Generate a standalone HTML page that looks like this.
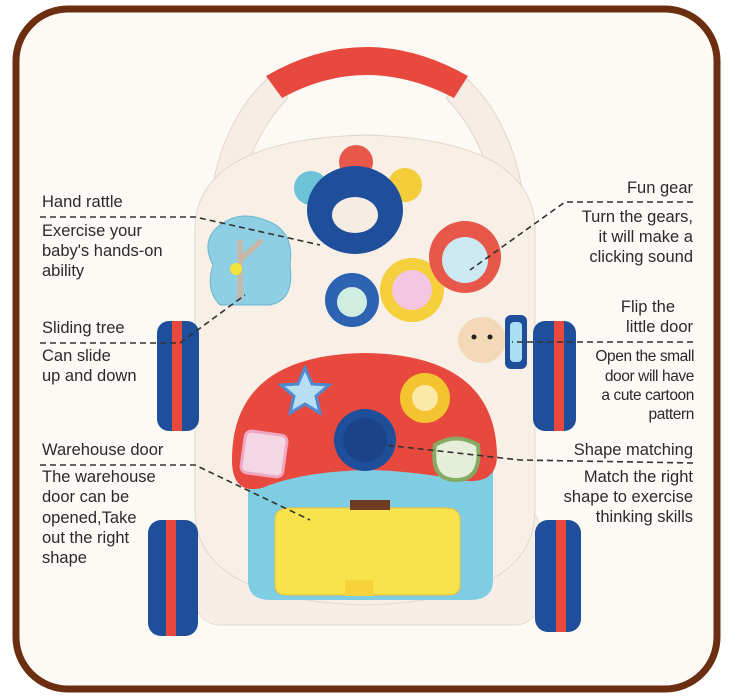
<!DOCTYPE html>
<html><head><meta charset="utf-8"><style>
html,body{margin:0;padding:0;background:#fff;}
svg{display:block;font-family:"Liberation Sans",sans-serif;}
text{fill:#2a2a2a;font-size:16.5px;}
.r{text-anchor:end;}
.n{font-size:15.5px;letter-spacing:-0.4px;}
.d{stroke:#333;stroke-width:1.6;stroke-dasharray:6 4;fill:none;}
</style></head><body>
<svg width="742" height="697" viewBox="0 0 742 697" xmlns="http://www.w3.org/2000/svg">
<rect x="0" y="0" width="742" height="697" fill="#fff"/>
<rect x="16" y="9" width="701" height="680" rx="52" fill="#fdfaf6" stroke="#6b2e10" stroke-width="7"/>

<!-- handle rails -->
<path d="M210 300 L210 200 Q222 120 268 78 L288 98 Q248 140 240 200 L240 300Z" fill="#f6ede4" stroke="#e2d6cb"/>
<path d="M524 300 L524 200 Q512 120 466 78 L446 98 Q486 140 494 200 L494 300Z" fill="#f6ede4" stroke="#e2d6cb"/>
<path d="M266 76 Q366 18 468 76 L454 98 Q366 52 282 98Z" fill="#e8493e"/>

<!-- wheels back frame -->
<rect x="195" y="505" width="345" height="120" rx="25" fill="#f7efe7" stroke="#e6dbd0"/>
<!-- body -->
<path d="M195 230 Q195 140 365 135 Q535 140 535 230 L535 510 Q535 600 365 605 Q195 600 195 510Z" fill="#f8efe6" stroke="#e3d7cc"/>

<!-- wheels -->
<g>
<rect x="157" y="321" width="42" height="110" rx="12" fill="#1f4f9a"/><rect x="172" y="321" width="10" height="110" fill="#e8493e"/>
<rect x="533" y="321" width="43" height="110" rx="12" fill="#1f4f9a"/><rect x="554" y="321" width="10" height="110" fill="#e8493e"/>
<rect x="148" y="520" width="50" height="116" rx="13" fill="#1f4f9a"/><rect x="166" y="520" width="10" height="116" fill="#e8493e"/>
<rect x="535" y="520" width="46" height="112" rx="13" fill="#1f4f9a"/><rect x="556" y="520" width="10" height="112" fill="#e8493e"/>
</g>

<!-- rattle -->
<circle cx="311" cy="188" r="17" fill="#6cc3d8"/>
<circle cx="356" cy="162" r="17" fill="#e8584a"/>
<circle cx="405" cy="185" r="17" fill="#f4cd3a"/>
<ellipse cx="355" cy="210" rx="48" ry="44" fill="#1f4f9a"/>
<ellipse cx="355" cy="215" rx="23" ry="18" fill="#f5ece3"/>
<!-- tree -->
<path d="M220 225 Q240 210 265 220 Q295 230 290 265 Q295 300 270 305 L220 305 Q205 290 213 265 Q200 240 220 225Z" fill="#8fcfe3" stroke="#6ab6cf"/>
<path d="M240 300 L240 240 M240 260 L262 240" stroke="#c9b7a4" stroke-width="5" fill="none"/>
<circle cx="236" cy="269" r="6" fill="#f3e43b"/>
<!-- gears -->
<circle cx="352" cy="300" r="27" fill="#2d63b1"/><circle cx="352" cy="302" r="15" fill="#cfeee1"/>
<circle cx="412" cy="290" r="32" fill="#f6cf3c"/><circle cx="412" cy="290" r="20" fill="#f4c6e2"/>
<circle cx="465" cy="257" r="36" fill="#e8584a"/><circle cx="465" cy="260" r="23" fill="#cde9f4"/>
<!-- bear + door -->
<ellipse cx="482" cy="340" rx="24" ry="23" fill="#f3d9b8"/>
<circle cx="474" cy="337" r="2.5" fill="#222"/><circle cx="490" cy="337" r="2.5" fill="#222"/>
<rect x="505" y="315" width="22" height="54" rx="6" fill="#1f4f9a"/><rect x="510" y="322" width="12" height="40" rx="4" fill="#a9dff1"/>

<!-- lower blue panel -->
<path d="M248 470 L493 470 L493 580 Q493 600 470 600 L270 600 Q248 600 248 580Z" fill="#7fcde3"/>
<path d="M275 520 Q275 508 290 508 L445 508 Q460 508 460 520 L460 585 Q460 595 448 595 L287 595 Q275 595 275 585Z" fill="#f7e44c" stroke="#f2c230"/>
<rect x="345" y="580" width="28" height="16" fill="#f7d23a"/>
<rect x="350" y="500" width="40" height="10" fill="#6e3c22"/>
<!-- red dome -->
<path d="M232 460 Q232 355 365 353 Q495 355 497 455 Q497 490 450 478 Q400 470 365 470 Q300 472 262 488 Q232 495 232 460Z" fill="#e8493e"/>
<circle cx="365" cy="440" r="31" fill="#1f4f9a"/><circle cx="365" cy="440" r="22" fill="#1a4388"/>
<path d="M305 368 L312 384 L329 385 L316 396 L320 413 L305 404 L290 413 L294 396 L281 385 L298 384Z" fill="#b8def1" stroke="#4f8ad0" stroke-width="3"/>
<circle cx="425" cy="398" r="25" fill="#f4c430"/><circle cx="425" cy="398" r="13" fill="#fbe9a7"/>
<rect x="243" y="433" width="42" height="42" rx="6" fill="#f5d7e3" stroke="#f0a7c2" stroke-width="3" transform="rotate(8 264 454)"/>
<path d="M435 445 Q456 432 478 445 Q482 480 456 480 Q430 480 435 445Z" fill="#e5eed8" stroke="#86a964" stroke-width="4"/>

<!-- dashed connectors -->
<path class="d" d="M40 217 L195 217 L320 245"/>
<path class="d" d="M40 343 L180 343 L245 295"/>
<path class="d" d="M40 465 L195 465 L310 520"/>
<path class="d" d="M693 202 L565 202 L470 270"/>
<path class="d" d="M693 342 L512 342"/>
<path class="d" d="M693 463 L520 460 L385 445"/>

<!-- left labels -->
<text x="42" y="207">Hand rattle</text>
<text x="42" y="236">Exercise your</text>
<text x="42" y="256">baby's hands-on</text>
<text x="42" y="276">ability</text>
<text x="42" y="333">Sliding tree</text>
<text x="42" y="361">Can slide</text>
<text x="42" y="381">up and down</text>
<text x="42" y="455">Warehouse door</text>
<text x="42" y="482">The warehouse</text>
<text x="42" y="502">door can be</text>
<text x="42" y="523">opened,Take</text>
<text x="42" y="543">out the right</text>
<text x="42" y="563">shape</text>

<!-- right labels -->
<text class="r" x="693" y="193">Fun gear</text>
<text class="r" x="693" y="222">Turn the gears,</text>
<text class="r" x="693" y="242">it will make a</text>
<text class="r" x="693" y="262">clicking sound</text>
<text class="r" x="675" y="312">Flip the</text>
<text class="r" x="693" y="332">little door</text>
<text class="r n" x="694" y="361">Open the small</text>
<text class="r n" x="694" y="381">door will have</text>
<text class="r n" x="694" y="400">a cute cartoon</text>
<text class="r n" x="694" y="419">pattern</text>
<text class="r" x="693" y="455">Shape matching</text>
<text class="r" x="693" y="482">Match the right</text>
<text class="r" x="693" y="502">shape to exercise</text>
<text class="r" x="693" y="522">thinking skills</text>
</svg>
</body></html>
